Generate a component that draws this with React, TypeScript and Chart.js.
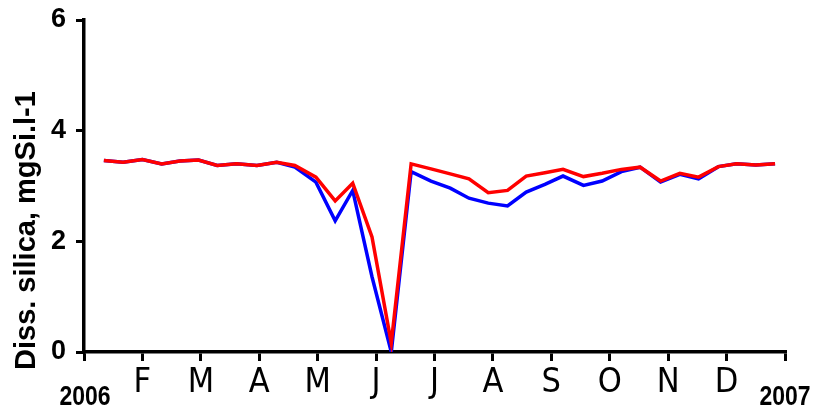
import React, { useEffect, useRef } from "react";
import { Chart, registerables } from "chart.js";

Chart.register(...registerables);

// sampling dates, expressed in months since 1 Jan 2006
const sampleMonths = [0.34, 0.67, 1.0, 1.33, 1.64, 1.96, 2.28, 2.61, 2.96, 3.3, 3.61, 3.97, 4.3, 4.6, 4.93, 5.26, 5.6, 5.94, 6.27, 6.59, 6.92, 7.25, 7.57, 7.89, 8.2, 8.55, 8.87, 9.2, 9.52, 9.87, 10.2, 10.52, 10.86, 11.17, 11.5, 11.83];

const redValues = [3.46, 3.43, 3.48, 3.4, 3.45, 3.47, 3.37, 3.4, 3.37, 3.43, 3.37, 3.16, 2.73, 3.05, 2.08, 0.16, 3.4, 3.31, 3.22, 3.13, 2.88, 2.92, 3.18, 3.24, 3.3, 3.17, 3.23, 3.3, 3.34, 3.09, 3.23, 3.16, 3.35, 3.4, 3.38, 3.4];

const blueValues = [3.46, 3.43, 3.48, 3.4, 3.45, 3.47, 3.37, 3.4, 3.37, 3.43, 3.34, 3.07, 2.37, 2.92, 1.36, 0.0, 3.26, 3.09, 2.96, 2.78, 2.69, 2.64, 2.89, 3.03, 3.18, 3.01, 3.09, 3.26, 3.34, 3.07, 3.21, 3.13, 3.35, 3.4, 3.38, 3.4];

const monthLabels = ["", "F", "M", "A", "M", "J", "J", "A", "S", "O", "N", "D", ""];
const yTickValues = [0, 2, 4, 6];
const yearStart = "2006";
const yearEnd = "2007";
const yTitle = "Diss. silica, mgSi.l-1";

const SANS = '"Liberation Sans", Arial, sans-serif';
const COND = '"DejaVu Sans Condensed", "Liberation Sans", sans-serif';

const extraText = {
  id: "extraText",
  afterDraw(chart: any) {
    const ctx = chart.ctx;
    const xs = chart.scales.x;
    const drawYear = (t: string, x: number) => {
      ctx.save();
      ctx.fillStyle = "#000";
      ctx.font = `bold 28px ${SANS}`;
      ctx.textAlign = "center";
      ctx.textBaseline = "middle";
      ctx.translate(x, 397);
      ctx.scale(0.82, 1);
      ctx.fillText(t, 0, 0);
      ctx.restore();
    };
    drawYear(yearStart, xs.getPixelForValue(0) + 1);
    drawYear(yearEnd, xs.getPixelForValue(12));

    ctx.save();
    ctx.fillStyle = "#000";
    ctx.font = `bold 29px ${SANS}`;
    ctx.translate(35, 370);
    ctx.rotate(-Math.PI / 2);
    ctx.textAlign = "left";
    ctx.textBaseline = "alphabetic";
    ctx.fillText(yTitle, 0, 0);
    ctx.restore();
  },
};

export default function App() {
  const ref = useRef<HTMLCanvasElement>(null);
  useEffect(() => {
    if (!ref.current) return;
    const chart = new Chart(ref.current, {
      type: "line",
      data: {
        datasets: [
          {
            label: "red",
            data: sampleMonths.map((m, i) => ({ x: m, y: redValues[i] })),
            borderColor: "#ff0000",
            borderWidth: 3.5,
            pointRadius: 0,
            tension: 0,
          },
          {
            label: "blue",
            data: sampleMonths.map((m, i) => ({ x: m, y: blueValues[i] })),
            borderColor: "#0000ff",
            borderWidth: 3.5,
            pointRadius: 0,
            tension: 0,
          },
        ],
      },
      options: {
        animation: false,
        responsive: false,
        maintainAspectRatio: false,
        layout: { padding: { top: 20, right: 33, left: 0, bottom: 0 } },
        plugins: { legend: { display: false }, tooltip: { enabled: false } },
        scales: {
          x: {
            type: "linear",
            min: 0,
            max: 12,
            afterFit: (s: any) => {
              s.height = 59;
              s.paddingLeft = 0;
              s.paddingRight = 0;
            },
            afterBuildTicks: (s: any) => {
              s.ticks = monthLabels.map((_, i) => ({ value: i }));
            },
            ticks: {
              autoSkip: false,
              maxRotation: 0,
              padding: 2,
              color: "#000",
              font: () => ({ family: COND, size: 34, lineHeight: 1.2 }),
              callback: (v: any) => monthLabels[Math.round(Number(v))] ?? "",
            },
            grid: { drawOnChartArea: false, drawTicks: true, tickLength: 9, color: "#000", lineWidth: 3 },
            border: { display: true, color: "#000", width: 3.5 },
          },
          y: {
            type: "linear",
            min: 0,
            max: 6,
            afterFit: (s: any) => {
              s.width = 84;
              s.paddingTop = 0;
              s.paddingBottom = 0;
            },
            afterBuildTicks: (s: any) => {
              s.ticks = yTickValues.map((v) => ({ value: v }));
            },
            ticks: {
              autoSkip: false,
              padding: 10,
              color: "#000",
              font: () => ({ family: SANS, size: 27, weight: "bold", lineHeight: 1.2 }),
            },
            grid: { drawOnChartArea: false, drawTicks: true, tickLength: 8, color: "#000", lineWidth: 3 },
            border: { display: true, color: "#000", width: 3.5 },
          },
        },
      },
      plugins: [extraText],
    });
    return () => chart.destroy();
  }, []);
  return (
    <div style={{ position: "fixed", left: 0, top: 0, width: 818, height: 411, background: "#fff" }}>
      <canvas ref={ref} width={818} height={411} style={{ width: 818, height: 411 }} />
    </div>
  );
}
